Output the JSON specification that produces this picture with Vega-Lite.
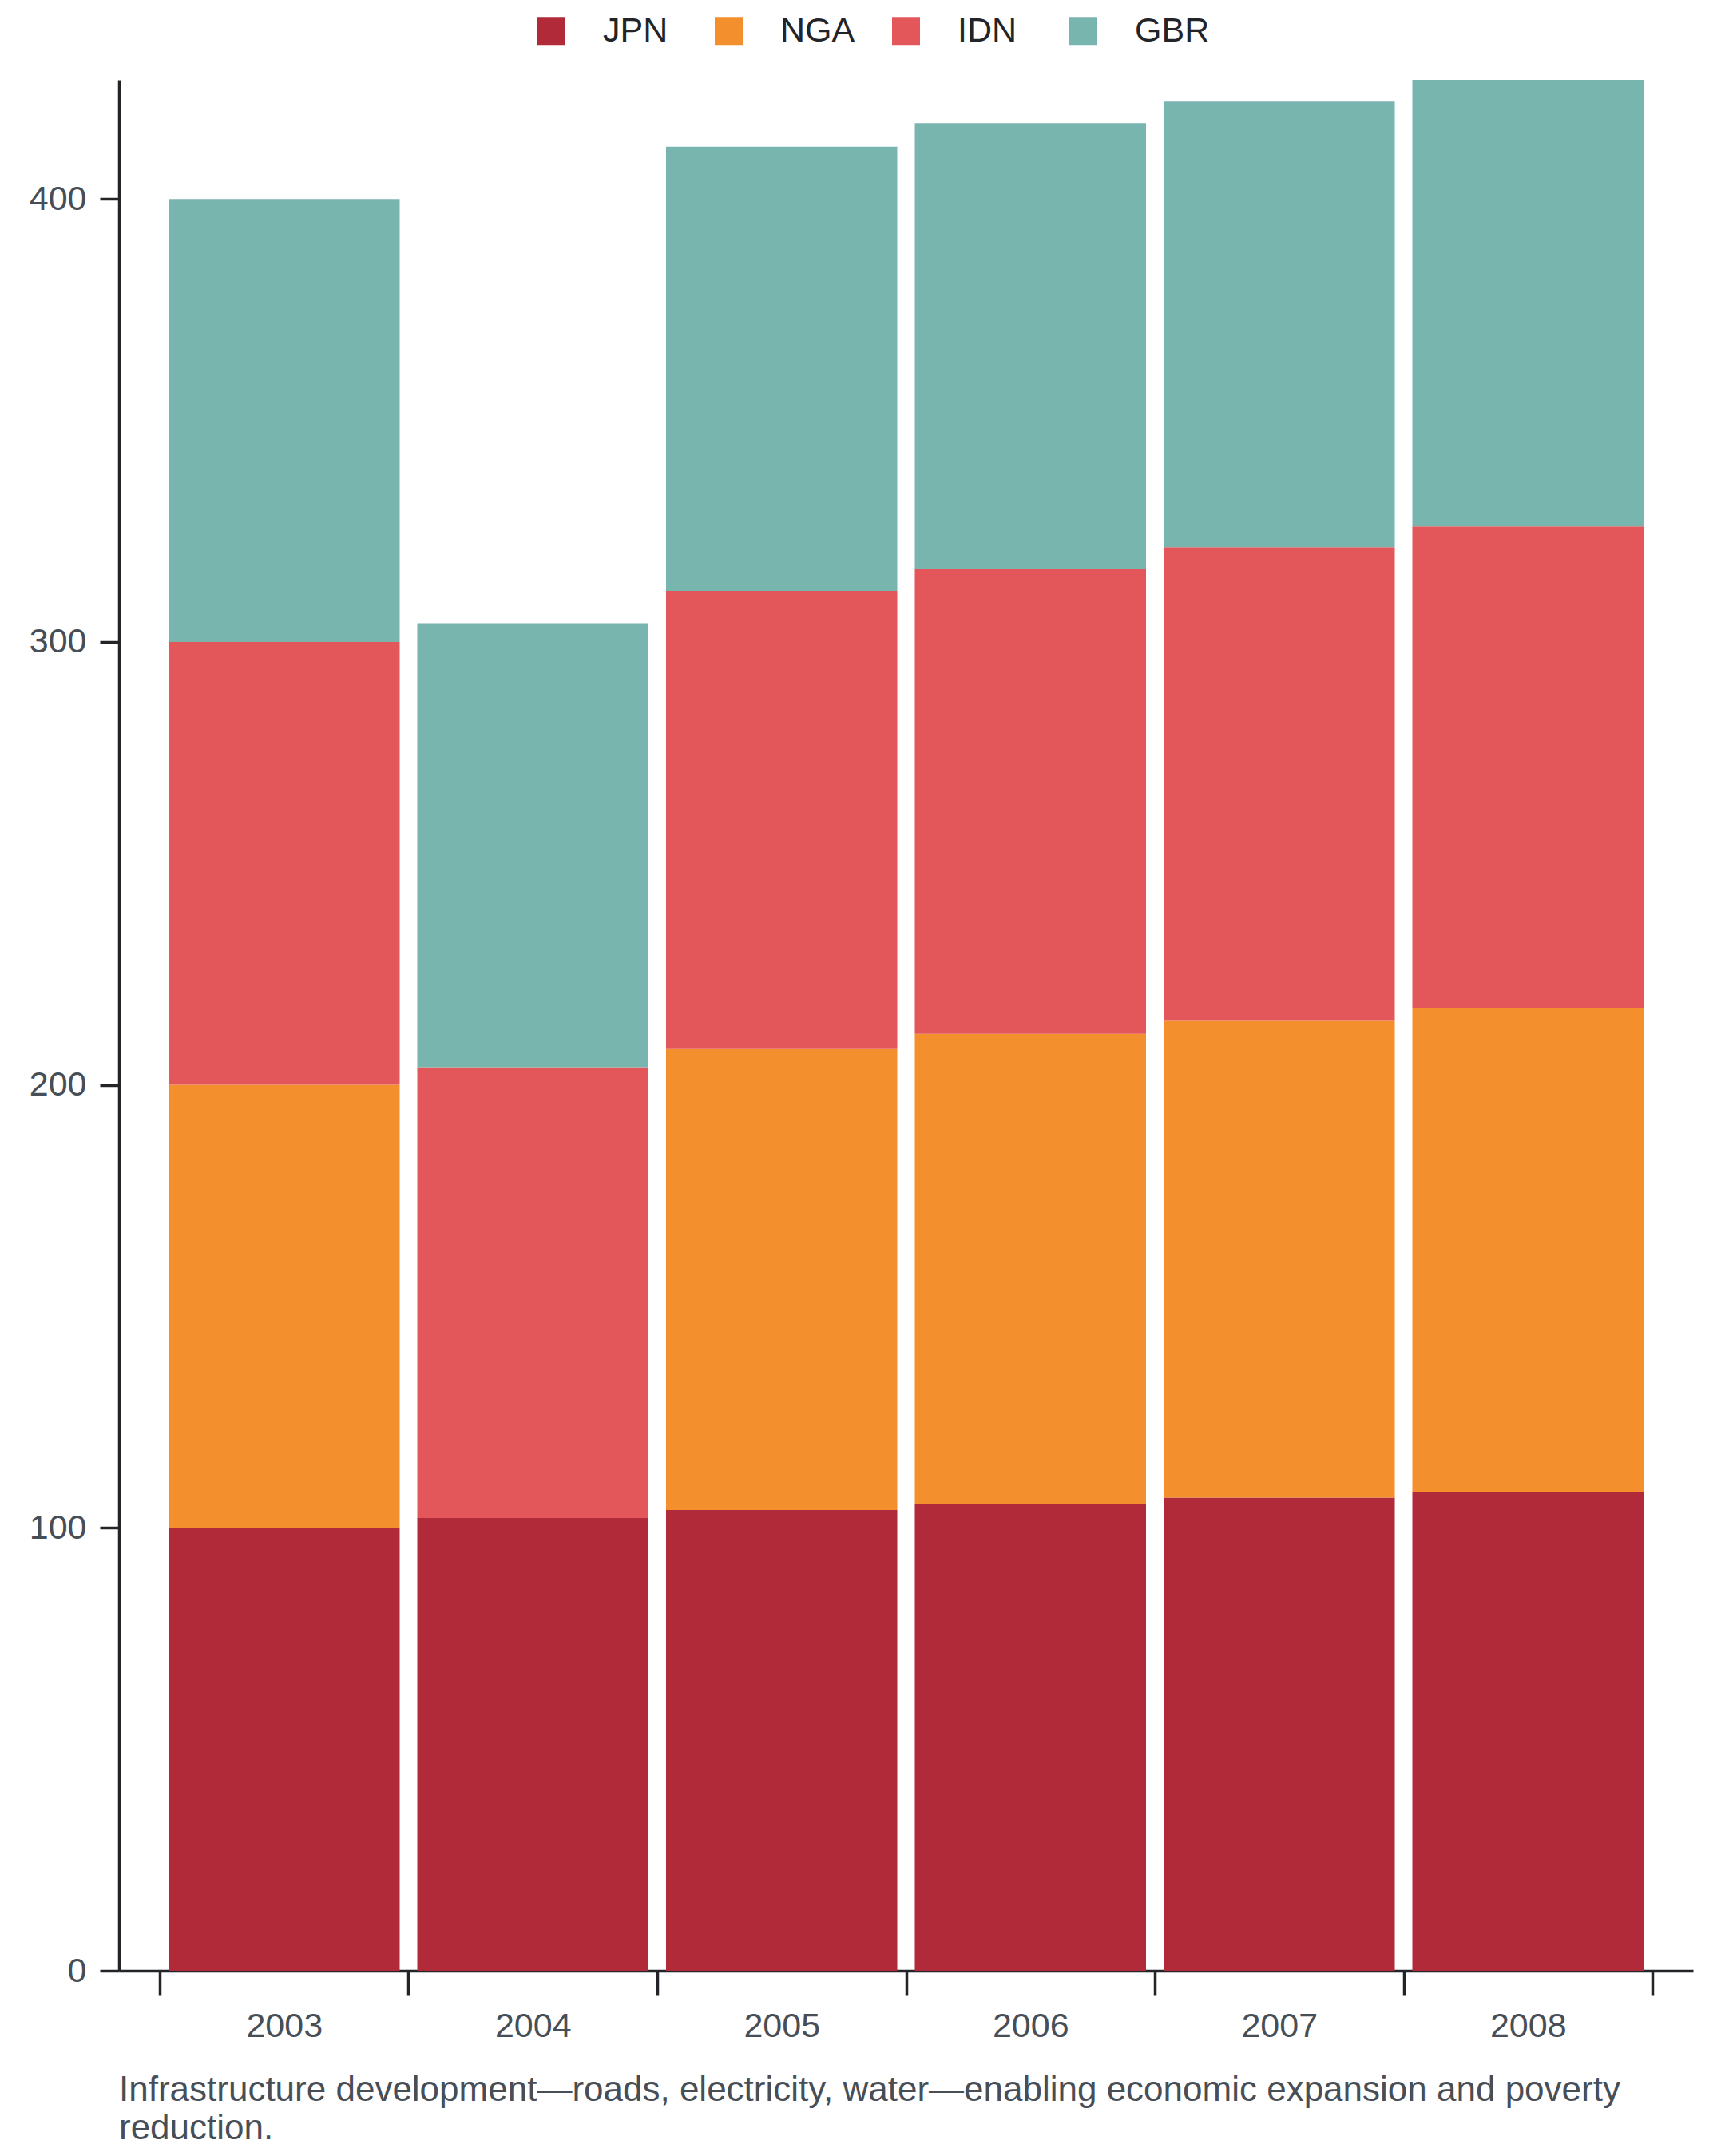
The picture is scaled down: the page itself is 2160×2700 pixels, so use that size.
{
  "$schema": "https://vega.github.io/schema/vega-lite/v6.json",
  "autosize": {"type": "none"},
  "width": 1971,
  "height": 2368,
  "padding": {"left": 149, "top": 100, "right": 40, "bottom": 232},
  "background": "white",
  "title": {
    "text": ["Infrastructure development\u2014roads, electricity, water\u2014enabling economic expansion and poverty", "reduction."],
    "orient": "bottom",
    "anchor": "start",
    "frame": "group",
    "font": "Liberation Sans",
    "fontSize": 44,
    "fontWeight": "normal",
    "color": "#484e56",
    "lineHeight": 48,
    "offset": 37
  },
  "data": {
    "values": [
      {"year": "2003", "country": "JPN", "k": 0, "value": 100},
      {"year": "2003", "country": "NGA", "k": 1, "value": 100},
      {"year": "2003", "country": "IDN", "k": 2, "value": 100},
      {"year": "2003", "country": "GBR", "k": 3, "value": 100},
      {"year": "2004", "country": "JPN", "k": 0, "value": 102.2},
      {"year": "2004", "country": "IDN", "k": 2, "value": 101.8},
      {"year": "2004", "country": "GBR", "k": 3, "value": 100.2},
      {"year": "2005", "country": "JPN", "k": 0, "value": 104.0},
      {"year": "2005", "country": "NGA", "k": 1, "value": 104.1},
      {"year": "2005", "country": "IDN", "k": 2, "value": 103.4},
      {"year": "2005", "country": "GBR", "k": 3, "value": 100.3},
      {"year": "2006", "country": "JPN", "k": 0, "value": 105.3},
      {"year": "2006", "country": "NGA", "k": 1, "value": 106.2},
      {"year": "2006", "country": "IDN", "k": 2, "value": 105.0},
      {"year": "2006", "country": "GBR", "k": 3, "value": 100.6},
      {"year": "2007", "country": "JPN", "k": 0, "value": 106.8},
      {"year": "2007", "country": "NGA", "k": 1, "value": 107.8},
      {"year": "2007", "country": "IDN", "k": 2, "value": 106.8},
      {"year": "2007", "country": "GBR", "k": 3, "value": 100.6},
      {"year": "2008", "country": "JPN", "k": 0, "value": 108.1},
      {"year": "2008", "country": "NGA", "k": 1, "value": 109.3},
      {"year": "2008", "country": "IDN", "k": 2, "value": 108.7},
      {"year": "2008", "country": "GBR", "k": 3, "value": 100.8}
    ]
  },
  "mark": {"type": "bar", "width": {"band": 0.9294}},
  "encoding": {
    "x": {
      "field": "year",
      "type": "nominal",
      "scale": {"paddingInner": 0, "paddingOuter": 0.1637},
      "axis": {
        "title": null,
        "labelAngle": 0,
        "tickBand": "extent",
        "tickSize": 31,
        "tickWidth": 3.5,
        "tickColor": "#222428",
        "domainColor": "#222428",
        "domainWidth": 3.5,
        "labelFont": "Liberation Sans",
        "labelFontSize": 43,
        "labelColor": "#484e56",
        "labelPadding": 17
      }
    },
    "y": {
      "field": "value",
      "type": "quantitative",
      "stack": "zero",
      "scale": {"nice": false, "zero": true},
      "axis": {
        "title": null,
        "grid": false,
        "values": [0, 100, 200, 300, 400],
        "tickSize": 24,
        "tickWidth": 3.5,
        "tickColor": "#222428",
        "domainColor": "#222428",
        "domainWidth": 3.5,
        "labelFont": "Liberation Sans",
        "labelFontSize": 43,
        "labelColor": "#484e56",
        "labelPadding": 17
      }
    },
    "color": {
      "field": "country",
      "type": "nominal",
      "scale": {"domain": ["JPN", "NGA", "IDN", "GBR"], "range": ["#b02a39", "#f38f2c", "#e3575b", "#79b5af"]},
      "legend": {
        "title": null,
        "orient": "none",
        "legendX": 520,
        "legendY": -83,
        "direction": "horizontal",
        "symbolType": "square",
        "symbolSize": 1225,
        "symbolStrokeWidth": 0,
        "labelFont": "Liberation Sans",
        "labelFontSize": 43,
        "labelColor": "#222428",
        "labelOffset": 43,
        "columnPadding": 42,
        "gridAlign": "all"
      }
    },
    "order": {"field": "k", "type": "quantitative"}
  },
  "config": {"view": {"stroke": null}}
}
